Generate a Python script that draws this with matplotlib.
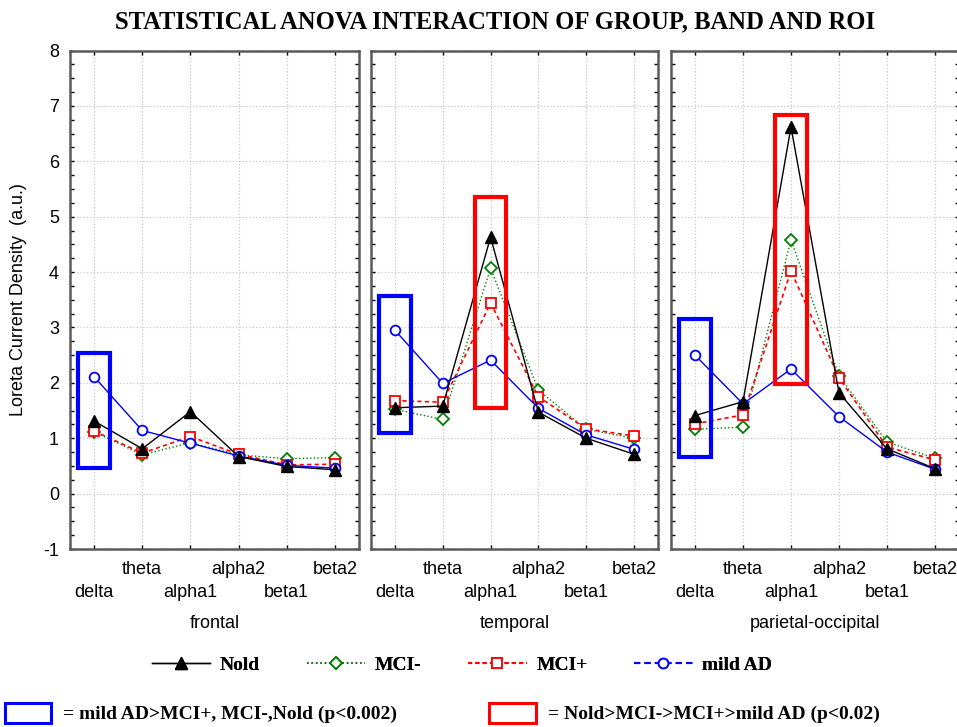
import matplotlib
matplotlib.use("Agg")
import matplotlib.pyplot as plt
from matplotlib.lines import Line2D
from matplotlib.patches import Rectangle, Patch
from matplotlib.ticker import MultipleLocator, FixedLocator

plt.rcParams['axes.unicode_minus'] = False

# bands and regions
bands = ['delta', 'theta', 'alpha1', 'alpha2', 'beta1', 'beta2']
rois = ['frontal', 'temporal', 'parietal-occipital']

# Loreta current density per group, one list per ROI
nold = [
    [1.31, 0.81, 1.48, 0.67, 0.49, 0.43],
    [1.55, 1.58, 4.63, 1.47, 1.00, 0.71],
    [1.41, 1.66, 6.62, 1.82, 0.81, 0.45],
]
mci_minus = [
    [1.12, 0.70, 0.92, 0.70, 0.63, 0.65],
    [1.52, 1.34, 4.07, 1.87, 1.16, 1.00],
    [1.16, 1.20, 4.58, 2.13, 0.93, 0.64],
]
mci_plus = [
    [1.13, 0.73, 1.03, 0.71, 0.52, 0.53],
    [1.68, 1.65, 3.44, 1.75, 1.17, 1.04],
    [1.26, 1.42, 4.02, 2.09, 0.84, 0.61],
]
mild_ad = [
    [2.11, 1.14, 0.91, 0.68, 0.51, 0.46],
    [2.95, 1.99, 2.41, 1.54, 1.06, 0.80],
    [2.50, 1.62, 2.25, 1.39, 0.75, 0.44],
]

# highlighted ranges: (roi index, band index, low, high)
blue_boxes = [(0, 0, 0.47, 2.53), (1, 0, 1.10, 3.57), (2, 0, 0.67, 3.15)]
red_boxes = [(1, 2, 1.54, 5.35), (2, 2, 1.98, 6.84)]

fig = plt.figure(figsize=(9.57, 7.27), dpi=100)

sans = 'Liberation Sans'
serif = 'Liberation Serif'
spine_col = '#5a5a5a'

lefts = [70, 371, 671]
widths = [289, 287, 288]
axes = []
for i, roi in enumerate(rois):
    ax = fig.add_axes([lefts[i] / 957, 1 - 549 / 727, widths[i] / 957, 498.5 / 727])
    axes.append(ax)
    x = list(range(len(bands)))
    ax.plot(x, nold[i], color='black', lw=1.0, marker='^', ms=8,
            mfc='black', mec='black', zorder=5)
    ax.plot(x, mci_minus[i], color='#008000', lw=1.0, ls=':', marker='D', ms=6,
            mfc='white', mec='#008000', mew=1.3, zorder=4)
    ax.plot(x, mci_plus[i], color='red', lw=1.2, ls=(0, (2.5, 2)), marker='s', ms=7,
            mfc='white', mec='red', mew=1.3, zorder=4)
    ax.plot(x, mild_ad[i], color='blue', lw=1.0, marker='o', ms=7,
            mfc='white', mec='blue', mew=1.3, zorder=4)

    for r, b, lo, hi in blue_boxes:
        if r == i:
            ax.add_patch(Rectangle((b - 0.33, lo), 0.66, hi - lo, fill=False,
                                   edgecolor='blue', lw=3, zorder=6))
    for r, b, lo, hi in red_boxes:
        if r == i:
            ax.add_patch(Rectangle((b - 0.33, lo), 0.66, hi - lo, fill=False,
                                   edgecolor='red', lw=3, zorder=6))

    ax.set_xlim(-0.5, 5.5)
    ax.set_ylim(-1, 8)
    ax.xaxis.set_major_locator(FixedLocator([0, 2, 4]))
    ax.xaxis.set_minor_locator(FixedLocator([1, 3, 5]))
    ax.set_xticklabels([bands[0], bands[2], bands[4]])
    ax.set_xticklabels([bands[1], bands[3], bands[5]], minor=True)
    ax.yaxis.set_major_locator(MultipleLocator(1))
    ax.yaxis.set_minor_locator(MultipleLocator(0.25))

    ax.tick_params(axis='both', which='both', direction='in', top=True, right=True,
                   length=3, width=1, color='black', labelsize=13)
    ax.tick_params(axis='x', which='major', pad=25)
    ax.tick_params(axis='x', which='minor', pad=9)
    ax.tick_params(axis='y', which='major', pad=8)
    for lab in ax.get_xticklabels(which='both') + ax.get_yticklabels():
        lab.set_fontfamily(sans)
    if i > 0:
        ax.tick_params(axis='y', which='both', labelleft=False)

    ax.grid(True, which='both', axis='x', color='#c8c8c8', ls=':', lw=0.9)
    ax.grid(True, which='major', axis='y', color='#c8c8c8', ls=':', lw=0.9)
    for sp in ax.spines.values():
        sp.set_color(spine_col)
        sp.set_linewidth(1.8)

    ax.set_xlabel(roi, fontsize=13, fontfamily=sans, labelpad=10)

axes[0].set_ylabel('Loreta Current Density  (a.u.)', fontsize=13, fontfamily=sans)
axes[0].yaxis.set_label_coords(-0.15, 0.5)

fig.text(0.517, 0.97, 'STATISTICAL ANOVA INTERACTION OF GROUP, BAND AND ROI',
         ha='center', va='center', fontsize=17.7, fontweight='bold', fontfamily=serif)

# group legend
handles = [
    Line2D([], [], color='black', lw=1.0, marker='^', ms=8, mfc='black'),
    Line2D([], [], color='#008000', lw=1.2, ls=':', marker='D', ms=6,
           mfc='white', mec='#008000', mew=1.3),
    Line2D([], [], color='red', lw=1.5, ls=(0, (2, 1.5)), marker='s', ms=7,
           mfc='white', mec='red', mew=1.3),
    Line2D([], [], color='blue', lw=1.5, ls=(0, (3, 2)), marker='o', ms=7,
           mfc='white', mec='blue', mew=1.3),
]
leg1 = fig.legend(handles, ['Nold', 'MCI-', 'MCI+', 'mild AD'], ncol=4,
                  loc='center', bbox_to_anchor=(462 / 957, 1 - 665 / 727),
                  frameon=False, handlelength=3.0, handletextpad=0.5,
                  columnspacing=2.4,
                  prop={'family': serif, 'size': 14, 'weight': 'bold'})
fig.add_artist(leg1)

# box legend
box_handles = [
    Patch(facecolor='white', edgecolor='blue', lw=2.2),
    Patch(facecolor='white', edgecolor='red', lw=2.2),
]
fig.legend(box_handles, ['= mild AD>MCI+, MCI-,Nold (p<0.002)',
                         '= Nold>MCI->MCI+>mild AD (p<0.02)'],
           ncol=2, loc='center', bbox_to_anchor=(0.462, 1 - 713 / 727),
           frameon=False, handlelength=2.4, handleheight=1.2, handletextpad=0.6,
           columnspacing=4.75,
           prop={'family': serif, 'size': 14, 'weight': 'bold'})

fig.savefig('out.png', dpi=100)
